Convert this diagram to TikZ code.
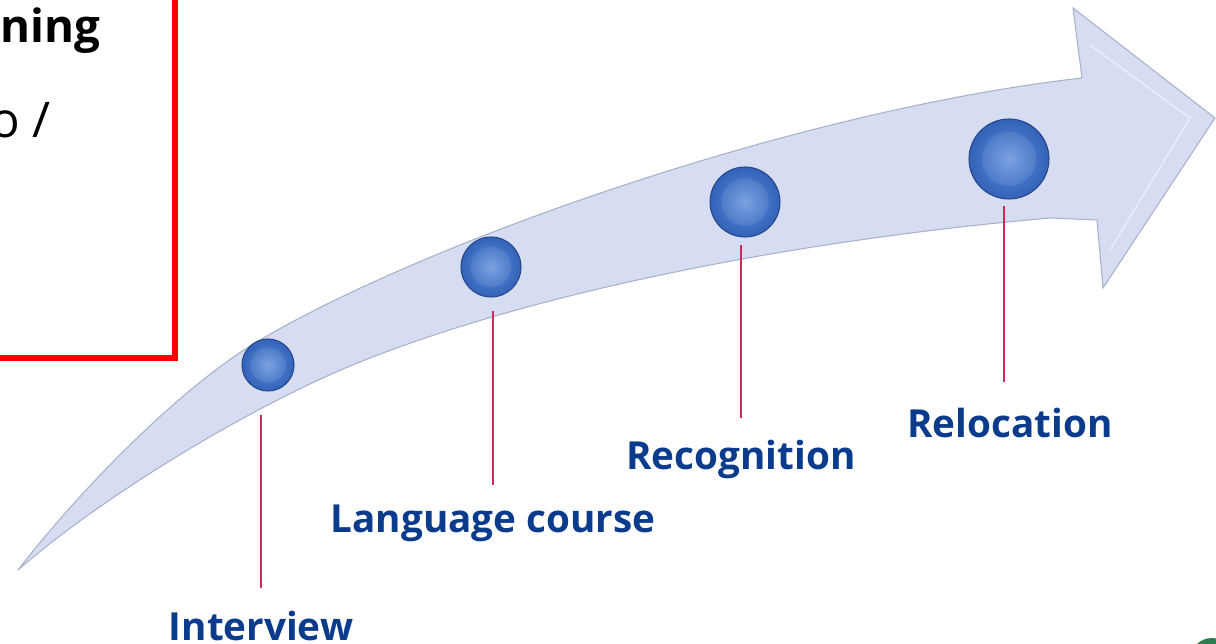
\documentclass[tikz,border=0pt]{standalone}
\usepackage{fontspec}
\setmainfont{Open Sans}
\usetikzlibrary{positioning}
\definecolor{arrowfill}{HTML}{D6DCF1}
\definecolor{arrowedge}{HTML}{A9B1CA}
\definecolor{ballout}{HTML}{3363B8}
\definecolor{ballin}{HTML}{5A8BDA}
\definecolor{ballrim}{HTML}{27478A}
\definecolor{stemred}{HTML}{D02A5C}
\definecolor{labelblue}{HTML}{0B3B8C}
\definecolor{dotgreen}{HTML}{2E7D4F}
\tikzset{
    ball/.style={circle, minimum size=#1, inner sep=0pt, draw=ballrim, line width=0.6pt,
        inner color=ballin, outer color=ballout,
        path picture={\shade[inner color=ballin!80!white, outer color=ballout!85!ballin]
            (path picture bounding box.center) circle[radius=0.34*#1];}},
    stem/.style={draw=stemred, line width=1.1pt},
    steplabel/.style={font=\bfseries\fontsize{22}{26}\selectfont, text=labelblue, inner sep=0pt},
}

\begin{document}
\begin{tikzpicture}[x=0.02cm, y=-0.02cm]
            \useasboundingbox (0,0) rectangle (1216,644);
            \clip (0,0) rectangle (1216,644);
            \draw[red, line width=0.12cm] (-20,-20) rectangle (175,358);
            \node[anchor=base east, inner sep=0pt, font=\bfseries\fontsize{26}{30}\selectfont] (head) at (101,43) {ning};
            \node[anchor=base west, inner sep=0pt, font=\fontsize{28}{32}\selectfont] (sub) at (-10,138) {o /};
            \fill[arrowfill, draw=arrowedge, line width=0.6pt]
                (18,570) .. controls (80,490) and (180,387) .. (260,340)
                .. controls (430,240) and (800,110) .. (1082,78)
                -- (1073,8) -- (1215,118) -- (1103,288) -- (1097,220) -- (1050,218)
                .. controls (800,240) and (540,290) .. (360,362)
                .. controls (260,402) and (110,490) .. (18,570)
                -- cycle;
            \draw[white!45!arrowfill, line width=1pt] (1090,45) -- (1190,118) -- (1110,250);
            \node[ball=1.04cm] (b1) at (268,365) {};
            \node[ball=1.2cm] (b2) at (491,267) {};
            \node[ball=1.4cm] (b3) at (745,202) {};
            \node[ball=1.6cm] (b4) at (1009,159) {};
            \coordinate (t1) at (261,415);
            \coordinate (t2) at (493,311);
            \coordinate (t3) at (741,245);
            \coordinate (t4) at (1004,206);
            \coordinate (s1) at (261,588);
            \coordinate (s2) at (493,485);
            \coordinate (s3) at (741,418);
            \coordinate (s4) at (1004,382);
            \draw[stem] (t1) -- (s1);
            \draw[stem] (t2) -- (s2);
            \draw[stem] (t3) -- (s3);
            \draw[stem] (t4) -- (s4);
            \node[steplabel, below=0.46cm of s1] (l1) {Interview};
            \node[steplabel, below=0.4cm of s2] (l2) {Language course};
            \node[steplabel, below=0.44cm of s3] (l3) {Recognition};
            \node[steplabel, below=0.52cm of s4, xshift=0.12cm] (l4) {Relocation};
            \fill[dotgreen] (1212,660) circle[radius=22];
\end{tikzpicture}
\end{document}
